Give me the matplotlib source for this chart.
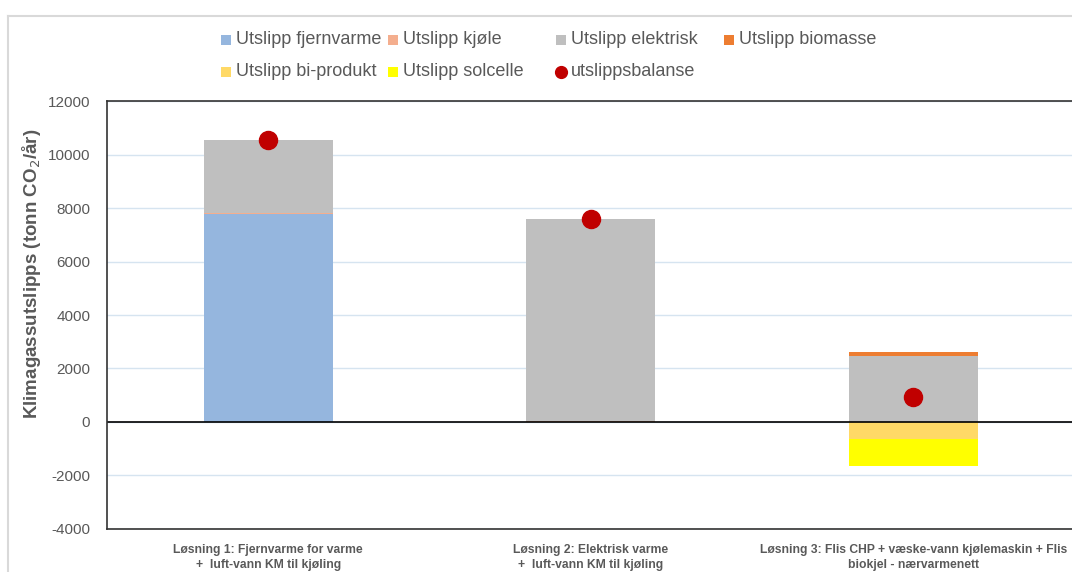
import matplotlib.pyplot as plt
from matplotlib.lines import Line2D
from matplotlib.patches import Rectangle
import numpy as np

plt.rcParams['font.family'] = ['Liberation Sans', 'DejaVu Sans']
plt.rcParams['axes.unicode_minus'] = False

# Emissions per solution (tonn CO2/år)
categories = [
    "Løsning 1: Fjernvarme for varme\n+  luft-vann KM til kjøling",
    "Løsning 2: Elektrisk varme\n+  luft-vann KM til kjøling",
    "Løsning 3: Flis CHP + væske-vann kjølemaskin + Flis\nbiokjel - nærvarmenett",
]
fjernvarme = [7780, 0, 0]
kjole = [40, 50, 0]
elektrisk = [2730, 7550, 2450]
biomasse = [0, 0, 150]
biprodukt = [0, 0, -650]
solcelle = [0, 0, -1000]
balanse = [10550, 7600, 950]

series_names = ["Utslipp fjernvarme", "Utslipp kjøle", "Utslipp elektrisk", "Utslipp biomasse",
                "Utslipp bi-produkt", "Utslipp solcelle"]
series_colors = ["#95B6DE", "#F4AE8E", "#BFBFBF", "#ED7D31", "#FFD966", "#FFFF00"]
dot_color = "#C00000"
text_color = "#595959"

fig = plt.figure(figsize=(10.72, 5.72), dpi=100)
ax = fig.add_axes([0.0998, 0.0752, 0.9025, 0.7482])

x = np.arange(len(categories))
width = 0.4

# stack positives upward from zero, negatives downward
pos_base = np.zeros(len(x))
neg_base = np.zeros(len(x))
for vals, col in zip([fjernvarme, kjole, elektrisk, biomasse, biprodukt, solcelle], series_colors):
    vals = np.array(vals, dtype=float)
    bottoms = np.where(vals >= 0, pos_base, neg_base)
    ax.bar(x, vals, width, bottom=bottoms, color=col, zorder=2)
    pos_base += np.where(vals >= 0, vals, 0)
    neg_base += np.where(vals < 0, vals, 0)

ax.plot(x, balanse, 'o', color=dot_color, markersize=13, zorder=3, linestyle='none')

ax.set_xlim(-0.5, 2.5)
ax.set_ylim(-4000, 12000)
ax.set_yticks(range(-4000, 12001, 2000))
ax.yaxis.grid(True, color="#D6E4F0", linewidth=1, zorder=0)
ax.set_axisbelow(True)
ax.axhline(0, color="black", linewidth=1.2, zorder=2.5)

ax.set_xticks(x)
ax.set_xticklabels(categories, fontsize=8.7, fontweight='bold', color=text_color, linespacing=1.3)
ax.tick_params(axis='x', length=0, pad=11)
ax.tick_params(axis='y', length=0, labelsize=11, labelcolor=text_color, pad=12)

for side in ['top', 'left', 'bottom']:
    ax.spines[side].set_color("#333333")
    ax.spines[side].set_linewidth(1.2)
ax.spines['right'].set_visible(False)

ax.set_ylabel("Klimagassutslipps (tonn CO$_2$/år)", fontsize=13.5, fontweight='bold',
              color=text_color)
ax.yaxis.set_label_coords(-0.066, 0.596)

# outer chart frame
fig.add_artist(Line2D([8 / 1072, 1.0], [1 - 16 / 572] * 2, color="#D9D9D9", linewidth=1.5))
fig.add_artist(Line2D([8 / 1072] * 2, [0, 1 - 16 / 572], color="#D9D9D9", linewidth=1.5))

# legend laid out in fixed columns
legend_cols = [226, 393, 561, 729]
legend_rows = [40, 72]
entries = list(zip(series_names, series_colors)) + [("utslippsbalanse", None)]
for i, (name, col) in enumerate(entries):
    r, c = divmod(i, 4)
    px, py = legend_cols[c], legend_rows[r]
    fx, fy = px / 1072, 1 - py / 572
    if col is None:
        fig.add_artist(Line2D([fx], [fy], marker='o', color=dot_color, markersize=8.5, linestyle='none'))
    else:
        s = 10
        fig.add_artist(Rectangle((fx - s / 2 / 1072, fy - s / 2 / 572), s / 1072, s / 572,
                                 facecolor=col, edgecolor='none', transform=fig.transFigure))
    fig.text(fx + 10 / 1072, fy, name, fontsize=13, color=text_color, va='center', ha='left')

fig.savefig("out.png", dpi=100)
